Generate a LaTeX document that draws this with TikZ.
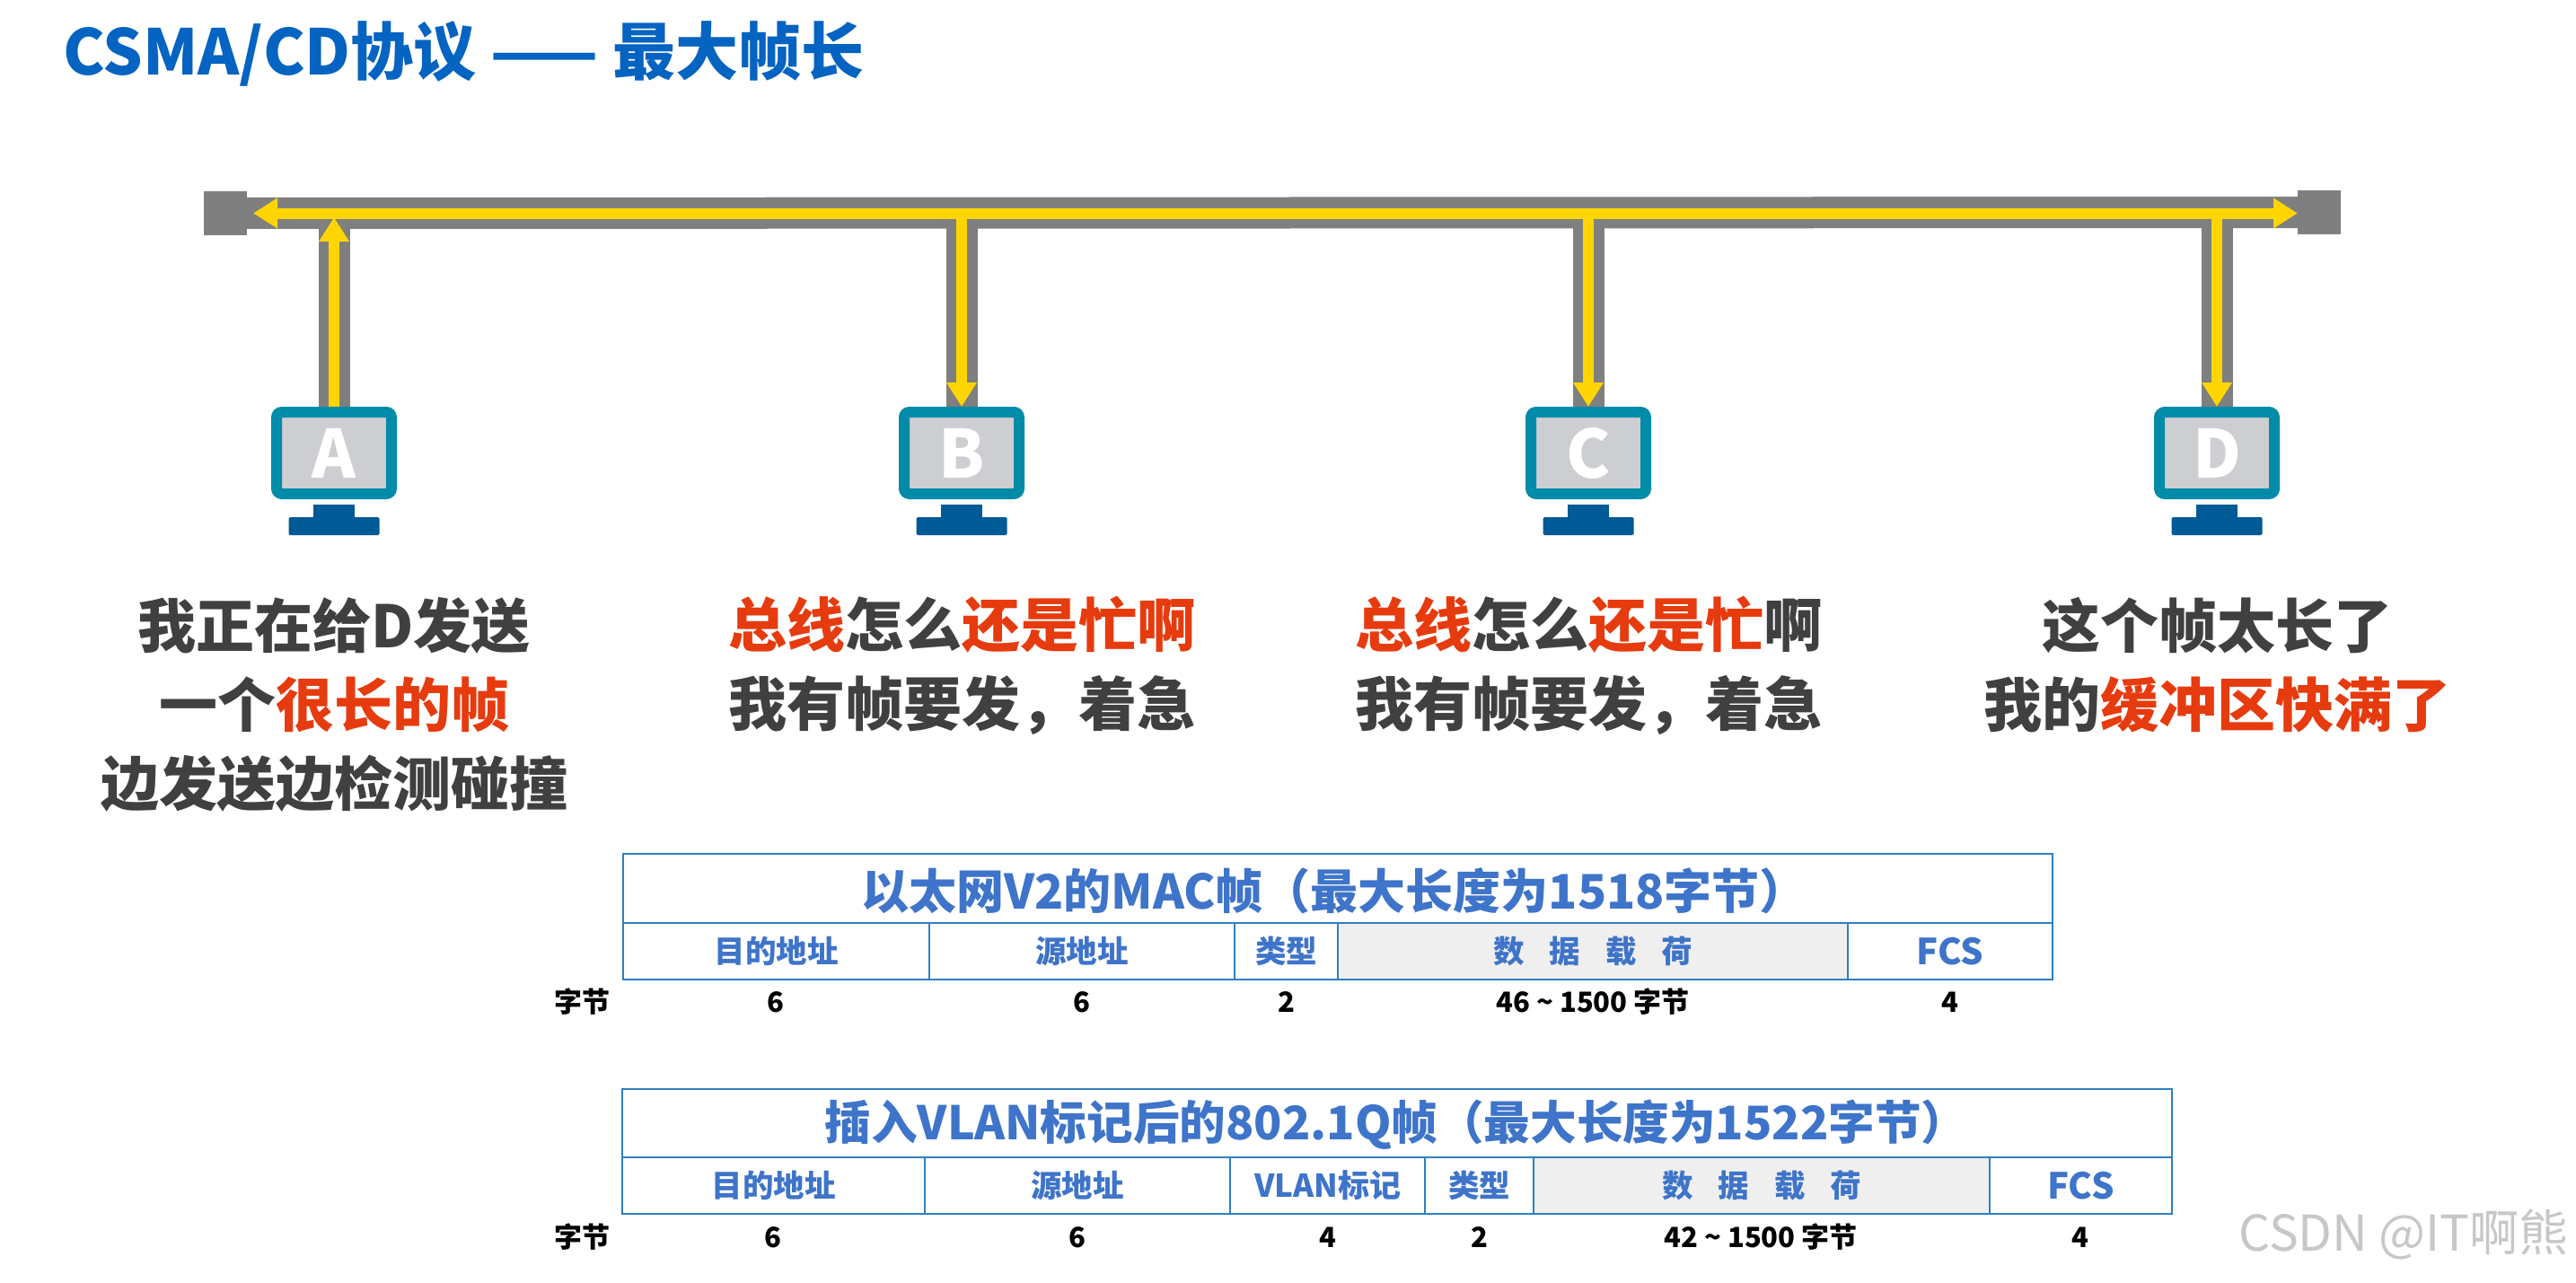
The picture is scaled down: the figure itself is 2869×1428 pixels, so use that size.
\documentclass[tikz,border=0pt]{standalone}
\usepackage{fontspec}
\setmainfont{Noto Sans CJK SC}
\newfontfamily\heavyface{Noto Sans CJK SC Black}
\usetikzlibrary{arrows.meta}
\definecolor{titleblue}{HTML}{0563C1}
\definecolor{tableblue}{HTML}{3E74C9}
\definecolor{ruleblue}{HTML}{2E7FC1}
\definecolor{busgrey}{HTML}{7F7F7F}
\definecolor{sigyellow}{HTML}{FFD500}
\definecolor{monteal}{HTML}{008CA8}
\definecolor{monscreen}{HTML}{CDCED2}
\definecolor{monstand}{HTML}{005A96}
\definecolor{alertred}{HTML}{E63B0E}
\definecolor{bodygrey}{HTML}{404040}
\definecolor{payload}{HTML}{EFEFEF}
\tikzset{
  terminator/.style={rectangle,fill=busgrey,minimum width=48pt,minimum height=49pt,inner sep=0pt,outer sep=0pt},
  busline/.style={draw=busgrey,line width=35pt},
  sigline/.style={draw=sigyellow,line width=12pt,-{Triangle[length=27pt,width=32pt]}},
  monitor/.style={rectangle,draw=monteal,fill=monscreen,line width=12pt,rounded corners=6pt,minimum width=128pt,minimum height=91pt,inner sep=0pt,text=white,font=\fontsize{74}{74}\selectfont\heavyface},
  neck/.style={rectangle,fill=monstand,minimum width=46pt,minimum height=15pt,inner sep=0pt,outer sep=0pt},
  standbase/.style={rectangle,fill=monstand,rounded corners=1.5pt,minimum width=101pt,minimum height=20pt,inner sep=0pt,outer sep=0pt},
  saying/.style={align=center,text=bodygrey,font=\fontsize{65}{88}\selectfont\bfseries,inner sep=0pt},
  tabletitle/.style={text=tableblue,font=\fontsize{53}{53}\selectfont\bfseries,inner sep=0pt},
  fieldcell/.style={rectangle,draw=ruleblue,line width=2.5pt,inner sep=0pt,outer sep=0pt,text=tableblue,font=\fontsize{34.5}{34.5}\selectfont\bfseries},
  bytecount/.style={text=black,font=\fontsize{31}{31}\selectfont\bfseries,inner sep=0pt}
}
\newcommand{\redtxt}[1]{\textcolor{alertred}{#1}}
\newcommand{\framecell}[7][]{\node[fieldcell,#1,minimum width={(#4-#3)*1pt},minimum height={(#6-#5)*1pt}] (#2) at ({(#3+#4)/2},{(#5+#6)/2}) {#7};}
\newcommand{\payloadtxt}{数\hspace{28pt}据\hspace{28pt}载\hspace{28pt}荷}
\begin{document}
\begin{tikzpicture}[x=1pt,y=-1pt]
\useasboundingbox (0,0) rectangle (2869,1428);
\fill[white] (0,0) rectangle (2869,1428);
\node[anchor=west,text=titleblue,font=\fontsize{70}{70}\selectfont\bfseries,inner sep=0pt] (title) at (70,60) {CSMA/CD协议 —— 最大帧长};
% bus
\node[terminator] (termL) at (251,237.5) {};
\node[terminator] (termR) at (2583,236.5) {};
\coordinate (tipL) at (282,237.5);
\coordinate (tipR) at (2559,237.5);
% monitors
\node[monitor] (monA) at (372,504.5) {A};
\node[monitor] (monB) at (1071,504.5) {B};
\node[monitor] (monC) at (1769,504.5) {C};
\node[monitor] (monD) at (2469,504.5) {D};
\foreach \m/\x in {A/372,B/1071,C/1769,D/2469}{
  \node[neck] (neck\m) at (\x,569) {};
  \node[standbase] (base\m) at (\x,586) {};
  \coordinate (jun\m) at (\x,237.5);
}
\coordinate (tipA) at (372,242);
\draw[busline] (termL) -- (termR);
\draw[busline] (monA.north) -- (junA);
\draw[busline] (monB.north) -- (junB);
\draw[busline] (monC.north) -- (junC);
\draw[busline] (monD.north) -- (junD);
\draw[sigline] (junA) -- (tipL);
\draw[sigline] (junA) -- (tipR);
\draw[sigline] (monA.north) -- (tipA);
\draw[sigline] (junB) -- (monB.north);
\draw[sigline] (junC) -- (monC.north);
\draw[sigline] (junD) -- (monD.north);
% sayings
\node[saying] (sayA) at (372,785) {我正在给D发送\\一个\redtxt{很长的帧}\\边发送边检测碰撞};
\node[saying] (sayB) at (1071,741) {\redtxt{总线}怎么\redtxt{还是忙啊}\\我有帧要发，着急};
\node[saying] (sayC) at (1769,741) {\redtxt{总线}怎么\redtxt{还是忙}啊\\我有帧要发，着急};
\node[saying] (sayD) at (2469,741) {这个帧太长了\\我的\redtxt{缓冲区快满了}};
% table 1
\framecell{oneTitle}{694}{2286}{951}{1028}{}
\node[tabletitle] (oneTitleText) at (1486,992) {以太网V2的MAC帧（最大长度为1518字节）};
\framecell{oneDst}{694}{1035}{1028}{1091}{目的地址}
\framecell{oneSrc}{1035}{1375}{1028}{1091}{源地址}
\framecell{oneType}{1375}{1490}{1028}{1091}{类型}
\framecell[fill=payload]{oneData}{1490}{2058}{1028}{1091}{\payloadtxt}
\framecell[font=\fontsize{40}{40}\selectfont\bfseries]{oneFcs}{2058}{2286}{1028}{1091}{FCS}
\node[bytecount] (oneUnit) at (648,1116) {字节};
\node[bytecount] at (864,1116) (oneA) {6};
\node[bytecount] at (1205,1116) (oneB) {6};
\node[bytecount] at (1433,1116) (oneC) {2};
\node[bytecount] at (1774,1116) (oneD) {46 \textasciitilde{} 1500 字节};
\node[bytecount] at (2172,1116) (oneE) {4};
% table 2
\framecell{twoTitle}{693}{2419}{1213}{1289}{}
\node[tabletitle,font=\fontsize{51.6}{51.6}\selectfont\bfseries] (twoTitleText) at (1555,1253) {插入VLAN标记后的802.1Q帧（最大长度为1522字节）};
\framecell{twoDst}{693}{1030}{1289}{1352}{目的地址}
\framecell{twoSrc}{1030}{1370}{1289}{1352}{源地址}
\framecell[font=\fontsize{35}{35}\selectfont\bfseries]{twoVlan}{1370}{1587}{1289}{1352}{VLAN标记}
\framecell{twoType}{1587}{1708}{1289}{1352}{类型}
\framecell[fill=payload]{twoData}{1708}{2216}{1289}{1352}{\payloadtxt}
\framecell[font=\fontsize{40}{40}\selectfont\bfseries]{twoFcs}{2216}{2419}{1289}{1352}{FCS}
\node[bytecount] (twoUnit) at (648,1378) {字节};
\node[bytecount] at (861,1378) (twoA) {6};
\node[bytecount] at (1200,1378) (twoB) {6};
\node[bytecount] at (1479,1378) (twoC) {4};
\node[bytecount] at (1648,1378) (twoD) {2};
\node[bytecount] at (1961,1378) (twoE) {42 \textasciitilde{} 1500 字节};
\node[bytecount] at (2317,1378) (twoF) {4};
% watermark
\node[anchor=east,text=black!22,font=\fontsize{55}{55}\selectfont,inner sep=0pt] (mark) at (2861,1375) {CSDN @IT啊熊};
\end{tikzpicture}
\end{document}
